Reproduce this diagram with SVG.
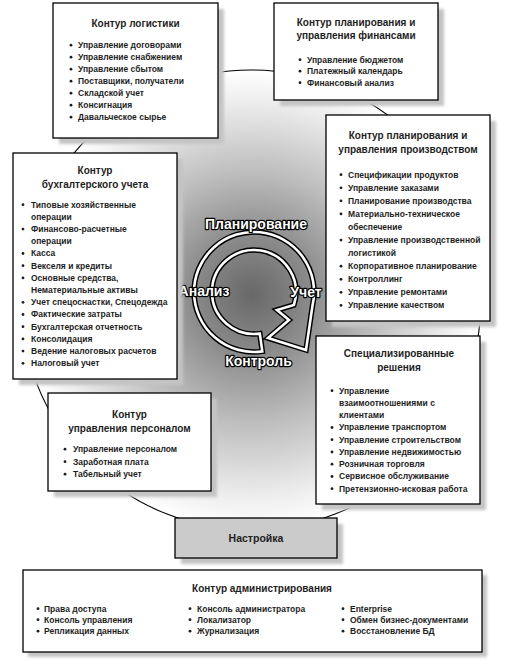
<svg xmlns="http://www.w3.org/2000/svg" width="505" height="661" viewBox="0 0 505 661">
<defs>
<radialGradient id="bg" gradientUnits="userSpaceOnUse" cx="251" cy="300" r="230" fx="252" fy="294">
<stop offset="0" stop-color="#686868"/>
<stop offset="0.25" stop-color="#8a8a8a"/>
<stop offset="0.55" stop-color="#bebebe"/>
<stop offset="0.85" stop-color="#ececec"/>
<stop offset="1" stop-color="#ffffff"/>
</radialGradient>
<filter id="blur" x="-10%" y="-10%" width="120%" height="120%"><feGaussianBlur stdDeviation="1.5"/></filter>
<style>
.box{fill:#fff;stroke:#000;stroke-width:1.3}
.sh{fill:#c4c4c4;filter:url(#blur)}
.t{font-family:'Liberation Sans',Arial,sans-serif;font-weight:bold;font-size:10px;text-anchor:middle;fill:#1e1e1e}
.i{font-family:'Liberation Sans',Arial,sans-serif;font-weight:bold;font-size:8.5px;fill:#1e1e1e}
.b{fill:#1e1e1e}
.c{font-family:'Liberation Sans',Arial,sans-serif;font-weight:bold;font-size:14px;text-anchor:middle;fill:#fff;stroke:#000;stroke-width:2.4;paint-order:stroke;stroke-linejoin:round}
.ring{fill:none;stroke:#000;stroke-width:1.1}
.arw{fill:none;stroke-linejoin:miter}
</style>
</defs>
<rect width="505" height="661" fill="#fff"/>
<g id="background">
<circle cx="251" cy="300" r="230" fill="url(#bg)"/>
</g>
<g id="connectors">
<circle class="ring" cx="251" cy="300" r="230"/>
</g>
<g id="cycle">
<path class="arw" stroke="#000" stroke-width="5.5" d="M262.3 351.4 A60 60 0 1 1 312.5 305.5 L306 350 L268 338 L289 320 L277 310 L293.9 305 A42 42 0 1 0 259.8 333.6 Z"/>
<path class="arw" stroke="#fff" stroke-width="2.6" d="M262.3 351.4 A60 60 0 1 1 312.5 305.5 L306 350 L268 338 L289 320 L277 310 L293.9 305 A42 42 0 1 0 259.8 333.6 Z"/>
<text class="c" x="256" y="228.5">Планирование</text>
<text class="c" x="204" y="295.5">Анализ</text>
<text class="c" x="306" y="297">Учет</text>
<text class="c" x="258.5" y="366">Контроль</text>
</g>
<g id="logistics">
<rect class="sh" x="59" y="9" width="165" height="135"/>
<rect class="box" x="53" y="3" width="165" height="135"/>
<text class="t" x="135.5" y="27">Контур логистики</text>
<g class="b"><circle cx="71" cy="45.2" r="1.4"/><circle cx="71" cy="57.2" r="1.4"/><circle cx="71" cy="69.2" r="1.4"/><circle cx="71" cy="81.2" r="1.4"/><circle cx="71" cy="93.2" r="1.4"/><circle cx="71" cy="105.2" r="1.4"/><circle cx="71" cy="117.2" r="1.4"/></g>
<text class="i" x="78" y="48">Управление договорами</text>
<text class="i" x="78" y="60">Управление снабжением</text>
<text class="i" x="78" y="72">Управление сбытом</text>
<text class="i" x="78" y="84">Поставщики, получатели</text>
<text class="i" x="78" y="96">Складской учет</text>
<text class="i" x="78" y="108">Консигнация</text>
<text class="i" x="78" y="120">Давальческое сырье</text>
</g>
<g id="finance">
<rect class="sh" x="280" y="9" width="164" height="97"/>
<rect class="box" x="274" y="3" width="164" height="97"/>
<text class="t" x="356" y="26">Контур планирования и</text>
<text class="t" x="356" y="38.5">управления финансами</text>
<g class="b"><circle cx="300" cy="59.7" r="1.4"/><circle cx="300" cy="71.2" r="1.4"/><circle cx="300" cy="82.7" r="1.4"/></g>
<text class="i" x="307" y="62.5">Управление бюджетом</text>
<text class="i" x="307" y="74">Платежный календарь</text>
<text class="i" x="307" y="85.5">Финансовый анализ</text>
</g>
<g id="production">
<rect class="sh" x="332" y="121" width="164" height="206"/>
<rect class="box" x="326" y="115" width="164" height="206"/>
<text class="t" x="408" y="138.5">Контур планирования и</text>
<text class="t" x="408" y="152.5">управления производством</text>
<g class="b"><circle cx="341" cy="174.7" r="1.4"/><circle cx="341" cy="187.8" r="1.4"/><circle cx="341" cy="200.8" r="1.4"/><circle cx="341" cy="213.9" r="1.4"/><circle cx="341" cy="240.1" r="1.4"/><circle cx="341" cy="266.2" r="1.4"/><circle cx="341" cy="279.3" r="1.4"/><circle cx="341" cy="292.3" r="1.4"/><circle cx="341" cy="305.4" r="1.4"/></g>
<text class="i" x="348" y="177.5">Спецификации продуктов</text>
<text class="i" x="348" y="190.6">Управление заказами</text>
<text class="i" x="348" y="203.6">Планирование производства</text>
<text class="i" x="348" y="216.7">Материально-техническое</text>
<text class="i" x="348" y="229.8">обеспечение</text>
<text class="i" x="348" y="242.9">Управление производственной</text>
<text class="i" x="348" y="255.9">логистикой</text>
<text class="i" x="348" y="269">Корпоративное планирование</text>
<text class="i" x="348" y="282.1">Контроллинг</text>
<text class="i" x="348" y="295.1">Управление ремонтами</text>
<text class="i" x="348" y="308.2">Управление качеством</text>
</g>
<g id="accounting">
<rect class="sh" x="19" y="159" width="164" height="226"/>
<rect class="box" x="13" y="153" width="164" height="226"/>
<text class="t" x="95" y="173.5">Контур</text>
<text class="t" x="95" y="187.5">бухгалтерского учета</text>
<g class="b"><circle cx="23" cy="204.7" r="1.4"/><circle cx="23" cy="229.1" r="1.4"/><circle cx="23" cy="253.5" r="1.4"/><circle cx="23" cy="265.7" r="1.4"/><circle cx="23" cy="277.9" r="1.4"/><circle cx="23" cy="302.3" r="1.4"/><circle cx="23" cy="314.5" r="1.4"/><circle cx="23" cy="326.7" r="1.4"/><circle cx="23" cy="338.9" r="1.4"/><circle cx="23" cy="351.1" r="1.4"/><circle cx="23" cy="363.3" r="1.4"/></g>
<text class="i" x="31" y="207.5">Типовые хозяйственные</text>
<text class="i" x="31" y="219.7">операции</text>
<text class="i" x="31" y="231.9">Финансово-расчетные</text>
<text class="i" x="31" y="244.1">операции</text>
<text class="i" x="31" y="256.3">Касса</text>
<text class="i" x="31" y="268.5">Векселя и кредиты</text>
<text class="i" x="31" y="280.7">Основные средства,</text>
<text class="i" x="31" y="292.9">Нематериальные активы</text>
<text class="i" x="31" y="305.1">Учет спецоснастки, Спецодежда</text>
<text class="i" x="31" y="317.3">Фактические затраты</text>
<text class="i" x="31" y="329.5">Бухгалтерская отчетность</text>
<text class="i" x="31" y="341.7">Консолидация</text>
<text class="i" x="31" y="353.9">Ведение налоговых расчетов</text>
<text class="i" x="31" y="366.1">Налоговый учет</text>
</g>
<g id="personnel">
<rect class="sh" x="54" y="399" width="163" height="98"/>
<rect class="box" x="48" y="393" width="163" height="98"/>
<text class="t" x="129.5" y="417.5">Контур</text>
<text class="t" x="129.5" y="431.5">управления персоналом</text>
<g class="b"><circle cx="65" cy="449.2" r="1.4"/><circle cx="65" cy="461.7" r="1.4"/><circle cx="65" cy="474.2" r="1.4"/></g>
<text class="i" x="73" y="452">Управление персоналом</text>
<text class="i" x="73" y="464.5">Заработная плата</text>
<text class="i" x="73" y="477">Табельный учет</text>
</g>
<g id="special">
<rect class="sh" x="322" y="342" width="164" height="168"/>
<rect class="box" x="316" y="336" width="164" height="168"/>
<text class="t" x="399" y="356.5">Специализированные</text>
<text class="t" x="399" y="371">решения</text>
<g class="b"><circle cx="332" cy="390.7" r="1.4"/><circle cx="332" cy="427.5" r="1.4"/><circle cx="332" cy="439.7" r="1.4"/><circle cx="332" cy="452" r="1.4"/><circle cx="332" cy="464.2" r="1.4"/><circle cx="332" cy="476.5" r="1.4"/><circle cx="332" cy="488.7" r="1.4"/></g>
<text class="i" x="339" y="393.5">Управление</text>
<text class="i" x="339" y="405.75">взаимоотношениями с</text>
<text class="i" x="339" y="418">клиентами</text>
<text class="i" x="339" y="430.25">Управление транспортом</text>
<text class="i" x="339" y="442.5">Управление строительством</text>
<text class="i" x="339" y="454.75">Управление недвижимостью</text>
<text class="i" x="339" y="467">Розничная торговля</text>
<text class="i" x="339" y="479.25">Сервисное обслуживание</text>
<text class="i" x="339" y="491.5">Претензионно-исковая работа</text>
</g>
<g id="setup">
<rect class="sh" x="181" y="524" width="162" height="40"/>
<rect class="box" x="175" y="518" width="162" height="40" style="fill:#cbcbcb"/>
<text class="t" x="256" y="542" style="font-size:10.5px">Настройка</text>
</g>
<g id="admin">
<rect class="sh" x="28" y="575" width="459" height="82"/>
<rect class="box" x="23" y="570" width="459" height="82"/>
<text class="t" x="262" y="591.5">Контур администрирования</text>
<g class="b"><circle cx="38" cy="608.7" r="1.4"/><circle cx="38" cy="619.7" r="1.4"/><circle cx="38" cy="631.2" r="1.4"/><circle cx="190" cy="608.7" r="1.4"/><circle cx="190" cy="619.7" r="1.4"/><circle cx="190" cy="631.2" r="1.4"/><circle cx="343" cy="608.7" r="1.4"/><circle cx="343" cy="619.7" r="1.4"/><circle cx="343" cy="631.2" r="1.4"/></g>
<text class="i" x="44" y="611.5">Права доступа</text>
<text class="i" x="44" y="622.5">Консоль управления</text>
<text class="i" x="44" y="634">Репликация данных</text>
<text class="i" x="197" y="611.5">Консоль администратора</text>
<text class="i" x="197" y="622.5">Локализатор</text>
<text class="i" x="197" y="634">Журнализация</text>
<text class="i" x="350" y="611.5">Enterprise</text>
<text class="i" x="350" y="622.5">Обмен бизнес-документами</text>
<text class="i" x="350" y="634">Восстановление БД</text>
</g>
</svg>
